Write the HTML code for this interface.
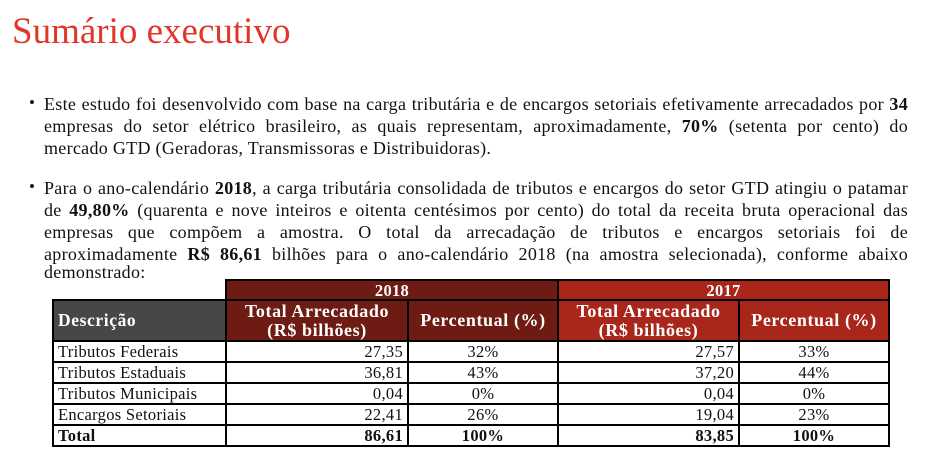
<!DOCTYPE html>
<html><head><meta charset="utf-8">
<style>
body{margin:0;width:934px;height:461px;background:#fff;position:relative;overflow:hidden;font-family:"Liberation Serif",serif;color:#111}
.title{position:absolute;left:12px;top:10px;font-size:37px;color:#e0372a;}
.bul{position:absolute;left:29px;font-size:17px}
.ln{position:absolute;left:44px;width:864px;font-size:18px;letter-spacing:0.3px;line-height:22px;white-space:nowrap}
.j{text-align:justify;text-align-last:justify;white-space:normal}
table{position:absolute;left:52px;top:279px;border-collapse:collapse;font-size:16.5px;letter-spacing:0.3px}
td{border:2px solid #000;padding:0 4px;height:17px;line-height:17px}
tr{height:21px}
.h18{background:#6e1b13;color:#fff;font-weight:bold;text-align:center}
.h17{background:#a8261a;color:#fff;font-weight:bold;text-align:center}
.hd{background:#474747;color:#fff;font-weight:bold;font-size:17.5px;letter-spacing:0.6px}
.hh{font-size:18px;letter-spacing:0.6px;line-height:19px}
.r{text-align:right}.c{text-align:center}
.tot td{font-weight:bold}
</style></head><body>
<div class="title">Sumário executivo</div>
<div class="bul" style="top:93px">•</div>
<div>
<div class="ln j" style="top:93px">Este estudo foi desenvolvido com base na carga tributária e de encargos setoriais efetivamente arrecadados por <b>34</b></div>
<div class="ln j" style="top:115px">empresas do setor elétrico brasileiro, as quais representam, aproximadamente, <b>70%</b> (setenta por cento) do</div>
<div class="ln" style="top:137px">mercado GTD (Geradoras, Transmissoras e Distribuidoras).</div>
</div>
<div class="bul" style="top:177px">•</div>
<div>
<div class="ln j" style="top:177px">Para o ano-calendário <b>2018</b>, a carga tributária consolidada de tributos e encargos do setor GTD atingiu o patamar</div>
<div class="ln j" style="top:199px">de <b>49,80%</b> (quarenta e nove inteiros e oitenta centésimos por cento) do total da receita bruta operacional das</div>
<div class="ln j" style="top:221px">empresas que compõem a amostra. O total da arrecadação de tributos e encargos setoriais foi de</div>
<div class="ln j" style="top:243px">aproximadamente <b>R$ 86,61</b> bilhões para o ano-calendário 2018 (na amostra selecionada), conforme abaixo</div>
<div class="ln" style="top:261px">demonstrado:</div>
</div>
<table>
<colgroup><col style="width:173px"><col style="width:182px"><col style="width:150px"><col style="width:181px"><col style="width:150px"></colgroup>
<tr style="height:20px"><td style="border:none;border-bottom:2px solid #000"></td><td colspan="2" class="h18">2018</td><td colspan="2" class="h17">2017</td></tr>
<tr style="height:41px"><td class="hd">Descrição</td>
<td class="h18 hh">Total Arrecadado<br>(R$ bilhões)</td><td class="h18 hh">Percentual (%)</td>
<td class="h17 hh">Total Arrecadado<br>(R$ bilhões)</td><td class="h17 hh">Percentual (%)</td></tr>
<tr><td>Tributos Federais</td><td class="r">27,35</td><td class="c">32%</td><td class="r">27,57</td><td class="c">33%</td></tr>
<tr><td>Tributos Estaduais</td><td class="r">36,81</td><td class="c">43%</td><td class="r">37,20</td><td class="c">44%</td></tr>
<tr><td>Tributos Municipais</td><td class="r">0,04</td><td class="c">0%</td><td class="r">0,04</td><td class="c">0%</td></tr>
<tr><td>Encargos Setoriais</td><td class="r">22,41</td><td class="c">26%</td><td class="r">19,04</td><td class="c">23%</td></tr>
<tr class="tot"><td>Total</td><td class="r">86,61</td><td class="c">100%</td><td class="r">83,85</td><td class="c">100%</td></tr>
</table>
</body></html>
